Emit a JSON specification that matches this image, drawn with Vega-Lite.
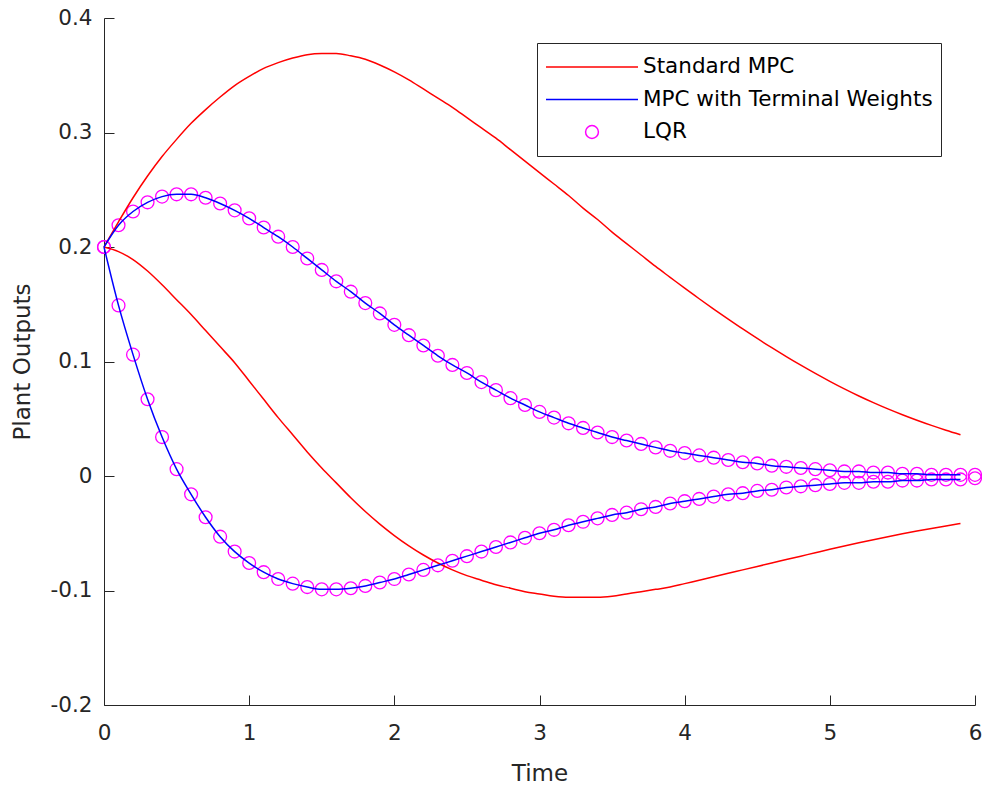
{
  "$schema": "https://vega.github.io/schema/vega-lite/v6.json",
  "width": 871,
  "height": 687,
  "autosize": "none",
  "padding": {"left": 104, "top": 18, "right": 7, "bottom": 82},
  "background": "white",
  "config": {"view": {"stroke": null}, "font": "DejaVu Sans"},
  "data": {
    "values": [
      {"t": 0.0, "out": 1, "std": 0.200, "tw": 0.200, "lqr": 0.200},
      {"t": 0.1, "out": 1, "std": 0.222, "tw": 0.219, "lqr": 0.219},
      {"t": 0.2, "out": 1, "std": 0.243, "tw": 0.231, "lqr": 0.231},
      {"t": 0.3, "out": 1, "std": 0.262, "tw": 0.239, "lqr": 0.239},
      {"t": 0.4, "out": 1, "std": 0.279, "tw": 0.244, "lqr": 0.244},
      {"t": 0.5, "out": 1, "std": 0.294, "tw": 0.246, "lqr": 0.246},
      {"t": 0.6, "out": 1, "std": 0.308, "tw": 0.246, "lqr": 0.246},
      {"t": 0.7, "out": 1, "std": 0.320, "tw": 0.243, "lqr": 0.243},
      {"t": 0.8, "out": 1, "std": 0.331, "tw": 0.238, "lqr": 0.238},
      {"t": 0.9, "out": 1, "std": 0.341, "tw": 0.232, "lqr": 0.232},
      {"t": 1.0, "out": 1, "std": 0.349, "tw": 0.225, "lqr": 0.225},
      {"t": 1.1, "out": 1, "std": 0.356, "tw": 0.217, "lqr": 0.217},
      {"t": 1.2, "out": 1, "std": 0.361, "tw": 0.209, "lqr": 0.209},
      {"t": 1.3, "out": 1, "std": 0.365, "tw": 0.200, "lqr": 0.200},
      {"t": 1.4, "out": 1, "std": 0.368, "tw": 0.190, "lqr": 0.190},
      {"t": 1.5, "out": 1, "std": 0.369, "tw": 0.180, "lqr": 0.180},
      {"t": 1.6, "out": 1, "std": 0.369, "tw": 0.170, "lqr": 0.170},
      {"t": 1.7, "out": 1, "std": 0.367, "tw": 0.161, "lqr": 0.161},
      {"t": 1.8, "out": 1, "std": 0.364, "tw": 0.151, "lqr": 0.151},
      {"t": 1.9, "out": 1, "std": 0.359, "tw": 0.142, "lqr": 0.142},
      {"t": 2.0, "out": 1, "std": 0.353, "tw": 0.132, "lqr": 0.132},
      {"t": 2.1, "out": 1, "std": 0.346, "tw": 0.123, "lqr": 0.123},
      {"t": 2.2, "out": 1, "std": 0.338, "tw": 0.114, "lqr": 0.114},
      {"t": 2.3, "out": 1, "std": 0.330, "tw": 0.105, "lqr": 0.105},
      {"t": 2.4, "out": 1, "std": 0.322, "tw": 0.097, "lqr": 0.097},
      {"t": 2.5, "out": 1, "std": 0.313, "tw": 0.090, "lqr": 0.090},
      {"t": 2.6, "out": 1, "std": 0.304, "tw": 0.082, "lqr": 0.082},
      {"t": 2.7, "out": 1, "std": 0.295, "tw": 0.075, "lqr": 0.075},
      {"t": 2.8, "out": 1, "std": 0.285, "tw": 0.068, "lqr": 0.068},
      {"t": 2.9, "out": 1, "std": 0.275, "tw": 0.062, "lqr": 0.062},
      {"t": 3.0, "out": 1, "std": 0.265, "tw": 0.056, "lqr": 0.056},
      {"t": 3.1, "out": 1, "std": 0.255, "tw": 0.051, "lqr": 0.051},
      {"t": 3.2, "out": 1, "std": 0.245, "tw": 0.046, "lqr": 0.046},
      {"t": 3.3, "out": 1, "std": 0.234, "tw": 0.042, "lqr": 0.042},
      {"t": 3.4, "out": 1, "std": 0.224, "tw": 0.038, "lqr": 0.038},
      {"t": 3.5, "out": 1, "std": 0.213, "tw": 0.034, "lqr": 0.034},
      {"t": 3.6, "out": 1, "std": 0.203, "tw": 0.031, "lqr": 0.031},
      {"t": 3.7, "out": 1, "std": 0.193, "tw": 0.028, "lqr": 0.028},
      {"t": 3.8, "out": 1, "std": 0.183, "tw": 0.025, "lqr": 0.025},
      {"t": 3.9, "out": 1, "std": 0.1735, "tw": 0.022, "lqr": 0.022},
      {"t": 4.0, "out": 1, "std": 0.1640, "tw": 0.020, "lqr": 0.020},
      {"t": 4.1, "out": 1, "std": 0.1548, "tw": 0.018, "lqr": 0.018},
      {"t": 4.2, "out": 1, "std": 0.1458, "tw": 0.016, "lqr": 0.016},
      {"t": 4.3, "out": 1, "std": 0.1370, "tw": 0.014, "lqr": 0.014},
      {"t": 4.4, "out": 1, "std": 0.1284, "tw": 0.012, "lqr": 0.012},
      {"t": 4.5, "out": 1, "std": 0.1201, "tw": 0.011, "lqr": 0.011},
      {"t": 4.6, "out": 1, "std": 0.1121, "tw": 0.009, "lqr": 0.009},
      {"t": 4.7, "out": 1, "std": 0.1043, "tw": 0.008, "lqr": 0.008},
      {"t": 4.8, "out": 1, "std": 0.0968, "tw": 0.007, "lqr": 0.007},
      {"t": 4.9, "out": 1, "std": 0.0896, "tw": 0.006, "lqr": 0.006},
      {"t": 5.0, "out": 1, "std": 0.0827, "tw": 0.005, "lqr": 0.005},
      {"t": 5.1, "out": 1, "std": 0.0761, "tw": 0.004, "lqr": 0.004},
      {"t": 5.2, "out": 1, "std": 0.0699, "tw": 0.004, "lqr": 0.004},
      {"t": 5.3, "out": 1, "std": 0.0641, "tw": 0.003, "lqr": 0.003},
      {"t": 5.4, "out": 1, "std": 0.0586, "tw": 0.003, "lqr": 0.003},
      {"t": 5.5, "out": 1, "std": 0.0535, "tw": 0.002, "lqr": 0.002},
      {"t": 5.6, "out": 1, "std": 0.0487, "tw": 0.002, "lqr": 0.002},
      {"t": 5.7, "out": 1, "std": 0.0442, "tw": 0.001, "lqr": 0.001},
      {"t": 5.8, "out": 1, "std": 0.0400, "tw": 0.001, "lqr": 0.001},
      {"t": 5.9, "out": 1, "std": 0.0361, "tw": 0.001, "lqr": 0.001},
      {"t": 6.0, "out": 1, "lqr": 0.001},
      {"t": 0.0, "out": 2, "std": 0.200, "tw": 0.200, "lqr": 0.200},
      {"t": 0.1, "out": 2, "std": 0.196, "tw": 0.149, "lqr": 0.149},
      {"t": 0.2, "out": 2, "std": 0.189, "tw": 0.106, "lqr": 0.106},
      {"t": 0.3, "out": 2, "std": 0.179, "tw": 0.067, "lqr": 0.067},
      {"t": 0.4, "out": 2, "std": 0.167, "tw": 0.034, "lqr": 0.034},
      {"t": 0.5, "out": 2, "std": 0.154, "tw": 0.006, "lqr": 0.006},
      {"t": 0.6, "out": 2, "std": 0.141, "tw": -0.016, "lqr": -0.016},
      {"t": 0.7, "out": 2, "std": 0.127, "tw": -0.036, "lqr": -0.036},
      {"t": 0.8, "out": 2, "std": 0.113, "tw": -0.053, "lqr": -0.053},
      {"t": 0.9, "out": 2, "std": 0.099, "tw": -0.066, "lqr": -0.066},
      {"t": 1.0, "out": 2, "std": 0.083, "tw": -0.076, "lqr": -0.076},
      {"t": 1.1, "out": 2, "std": 0.067, "tw": -0.084, "lqr": -0.084},
      {"t": 1.2, "out": 2, "std": 0.051, "tw": -0.090, "lqr": -0.090},
      {"t": 1.3, "out": 2, "std": 0.036, "tw": -0.094, "lqr": -0.094},
      {"t": 1.4, "out": 2, "std": 0.021, "tw": -0.097, "lqr": -0.097},
      {"t": 1.5, "out": 2, "std": 0.007, "tw": -0.099, "lqr": -0.099},
      {"t": 1.6, "out": 2, "std": -0.006, "tw": -0.099, "lqr": -0.099},
      {"t": 1.7, "out": 2, "std": -0.019, "tw": -0.098, "lqr": -0.098},
      {"t": 1.8, "out": 2, "std": -0.031, "tw": -0.096, "lqr": -0.096},
      {"t": 1.9, "out": 2, "std": -0.042, "tw": -0.093, "lqr": -0.093},
      {"t": 2.0, "out": 2, "std": -0.052, "tw": -0.090, "lqr": -0.090},
      {"t": 2.1, "out": 2, "std": -0.061, "tw": -0.086, "lqr": -0.086},
      {"t": 2.2, "out": 2, "std": -0.069, "tw": -0.082, "lqr": -0.082},
      {"t": 2.3, "out": 2, "std": -0.076, "tw": -0.078, "lqr": -0.078},
      {"t": 2.4, "out": 2, "std": -0.082, "tw": -0.074, "lqr": -0.074},
      {"t": 2.5, "out": 2, "std": -0.087, "tw": -0.070, "lqr": -0.070},
      {"t": 2.6, "out": 2, "std": -0.091, "tw": -0.066, "lqr": -0.066},
      {"t": 2.7, "out": 2, "std": -0.095, "tw": -0.062, "lqr": -0.062},
      {"t": 2.8, "out": 2, "std": -0.098, "tw": -0.058, "lqr": -0.058},
      {"t": 2.9, "out": 2, "std": -0.101, "tw": -0.054, "lqr": -0.054},
      {"t": 3.0, "out": 2, "std": -0.103, "tw": -0.050, "lqr": -0.050},
      {"t": 3.1, "out": 2, "std": -0.105, "tw": -0.047, "lqr": -0.047},
      {"t": 3.2, "out": 2, "std": -0.106, "tw": -0.043, "lqr": -0.043},
      {"t": 3.3, "out": 2, "std": -0.106, "tw": -0.040, "lqr": -0.040},
      {"t": 3.4, "out": 2, "std": -0.106, "tw": -0.037, "lqr": -0.037},
      {"t": 3.5, "out": 2, "std": -0.105, "tw": -0.034, "lqr": -0.034},
      {"t": 3.6, "out": 2, "std": -0.103, "tw": -0.032, "lqr": -0.032},
      {"t": 3.7, "out": 2, "std": -0.101, "tw": -0.029, "lqr": -0.029},
      {"t": 3.8, "out": 2, "std": -0.099, "tw": -0.027, "lqr": -0.027},
      {"t": 3.9, "out": 2, "std": -0.097, "tw": -0.024, "lqr": -0.024},
      {"t": 4.0, "out": 2, "std": -0.094, "tw": -0.022, "lqr": -0.022},
      {"t": 4.1, "out": 2, "std": -0.091, "tw": -0.020, "lqr": -0.020},
      {"t": 4.2, "out": 2, "std": -0.088, "tw": -0.018, "lqr": -0.018},
      {"t": 4.3, "out": 2, "std": -0.085, "tw": -0.016, "lqr": -0.016},
      {"t": 4.4, "out": 2, "std": -0.082, "tw": -0.015, "lqr": -0.015},
      {"t": 4.5, "out": 2, "std": -0.079, "tw": -0.013, "lqr": -0.013},
      {"t": 4.6, "out": 2, "std": -0.076, "tw": -0.012, "lqr": -0.012},
      {"t": 4.7, "out": 2, "std": -0.073, "tw": -0.010, "lqr": -0.010},
      {"t": 4.8, "out": 2, "std": -0.070, "tw": -0.009, "lqr": -0.009},
      {"t": 4.9, "out": 2, "std": -0.067, "tw": -0.008, "lqr": -0.008},
      {"t": 5.0, "out": 2, "std": -0.0640, "tw": -0.007, "lqr": -0.007},
      {"t": 5.1, "out": 2, "std": -0.0611, "tw": -0.006, "lqr": -0.006},
      {"t": 5.2, "out": 2, "std": -0.0583, "tw": -0.006, "lqr": -0.006},
      {"t": 5.3, "out": 2, "std": -0.0556, "tw": -0.005, "lqr": -0.005},
      {"t": 5.4, "out": 2, "std": -0.0530, "tw": -0.005, "lqr": -0.005},
      {"t": 5.5, "out": 2, "std": -0.0505, "tw": -0.004, "lqr": -0.004},
      {"t": 5.6, "out": 2, "std": -0.0481, "tw": -0.004, "lqr": -0.004},
      {"t": 5.7, "out": 2, "std": -0.0458, "tw": -0.003, "lqr": -0.003},
      {"t": 5.8, "out": 2, "std": -0.0436, "tw": -0.003, "lqr": -0.003},
      {"t": 5.9, "out": 2, "std": -0.0415, "tw": -0.003, "lqr": -0.003},
      {"t": 6.0, "out": 2, "lqr": -0.002}
    ]
  },
  "encoding": {
    "x": {
      "field": "t",
      "type": "quantitative",
      "title": "Time",
      "scale": {"domain": [0, 6], "nice": false, "zero": false},
      "axis": {
        "values": [0, 1, 2, 3, 4, 5, 6],
        "grid": false,
        "tickSize": -10,
        "labelPadding": 27,
        "domainColor": "#262626",
        "tickColor": "#262626",
        "labelColor": "#262626",
        "titleColor": "#262626",
        "labelFontSize": 21.5,
        "titleFontSize": 23,
        "titleFontWeight": "normal",
        "titlePadding": 19,
        "labelFlush": false
      }
    },
    "detail": {"field": "out", "type": "nominal"}
  },
  "layer": [
    {
      "mark": {"type": "point", "filled": false, "size": 165, "strokeWidth": 1.3, "opacity": 1},
      "encoding": {
        "y": {
          "field": "lqr",
          "type": "quantitative",
          "title": "Plant Outputs",
          "scale": {"domain": [-0.2, 0.4], "nice": false, "zero": false},
          "axis": {
            "values": [-0.2, -0.1, 0, 0.1, 0.2, 0.3, 0.4],
            "labelExpr": "toString(round(datum.value * 10) / 10)",
            "grid": false,
            "tickSize": -10,
            "labelPadding": 22,
            "domainColor": "#262626",
            "tickColor": "#262626",
            "labelColor": "#262626",
            "titleColor": "#262626",
            "labelFontSize": 21.5,
            "titleFontSize": 23,
            "titleFontWeight": "normal",
            "titlePadding": 16,
            "labelFlush": false
          }
        },
        "color": {
          "datum": "LQR",
          "scale": {
            "domain": ["Standard MPC", "MPC with Terminal Weights", "LQR"],
            "range": ["#ff0000", "#0000ff", "#ff00ff"]
          },
          "legend": {
            "title": null,
            "orient": "none",
            "legendX": 433,
            "legendY": 25,
            "direction": "vertical",
            "columns": 1,
            "padding": 8,
            "strokeColor": "#262626",
            "fillColor": "white",
            "labelFontSize": 21.5,
            "labelColor": "#000000",
            "labelOffset": 4,
            "labelLimit": 400,
            "clipHeight": 32,
            "rowPadding": 0.5,
            "symbolSize": 8464,
            "symbolStrokeWidth": 1.5,
            "symbolType": "stroke",
            "encode": {
              "symbols": {
                "update": {
                  "shape": {"signal": "datum.value === 'LQR' ? 'circle' : 'stroke'"},
                  "size": {"signal": "datum.value === 'LQR' ? 165 : 8464"},
                  "fill": {"value": "transparent"}
                }
              }
            }
          }
        }
      }
    },
    {
      "mark": {"type": "line", "strokeWidth": 1.5, "interpolate": "monotone"},
      "encoding": {
        "y": {"field": "std", "type": "quantitative", "title": "Plant Outputs"},
        "color": {
          "datum": "Standard MPC",
          "legend": {
            "title": null,
            "orient": "none",
            "legendX": 433,
            "legendY": 25,
            "direction": "vertical",
            "columns": 1,
            "padding": 8,
            "strokeColor": "#262626",
            "fillColor": "white",
            "labelFontSize": 21.5,
            "labelColor": "#000000",
            "labelOffset": 4,
            "labelLimit": 400,
            "clipHeight": 32,
            "rowPadding": 0.5,
            "symbolSize": 8464,
            "symbolStrokeWidth": 1.5,
            "symbolType": "stroke",
            "encode": {
              "symbols": {
                "update": {
                  "shape": {"signal": "datum.value === 'LQR' ? 'circle' : 'stroke'"},
                  "size": {"signal": "datum.value === 'LQR' ? 165 : 8464"},
                  "fill": {"value": "transparent"}
                }
              }
            }
          }
        }
      }
    },
    {
      "mark": {"type": "line", "strokeWidth": 1.5, "interpolate": "monotone"},
      "encoding": {
        "y": {"field": "tw", "type": "quantitative", "title": "Plant Outputs"},
        "color": {
          "datum": "MPC with Terminal Weights",
          "legend": {
            "title": null,
            "orient": "none",
            "legendX": 433,
            "legendY": 25,
            "direction": "vertical",
            "columns": 1,
            "padding": 8,
            "strokeColor": "#262626",
            "fillColor": "white",
            "labelFontSize": 21.5,
            "labelColor": "#000000",
            "labelOffset": 4,
            "labelLimit": 400,
            "clipHeight": 32,
            "rowPadding": 0.5,
            "symbolSize": 8464,
            "symbolStrokeWidth": 1.5,
            "symbolType": "stroke",
            "encode": {
              "symbols": {
                "update": {
                  "shape": {"signal": "datum.value === 'LQR' ? 'circle' : 'stroke'"},
                  "size": {"signal": "datum.value === 'LQR' ? 165 : 8464"},
                  "fill": {"value": "transparent"}
                }
              }
            }
          }
        }
      }
    }
  ]
}
